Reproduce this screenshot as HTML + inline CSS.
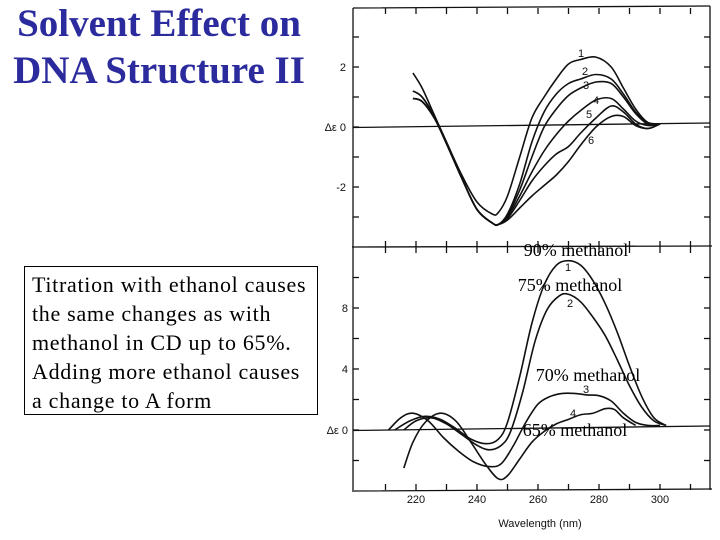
<!DOCTYPE html>
<html><head><meta charset="utf-8"><style>
body{margin:0;width:720px;height:540px;background:#fff;overflow:hidden;position:relative;font-family:"Liberation Serif",serif}
#title{position:absolute;left:0;top:0;width:318px;text-align:center;color:#2b2b9e;font-weight:bold;font-size:39px;line-height:47px;white-space:nowrap}
#note{position:absolute;left:24px;top:266px;width:294px;height:149px;border:1px solid #000;font-size:22px;letter-spacing:0.7px;line-height:29px;padding:3px 0 0 7px;box-sizing:border-box;white-space:nowrap}
svg{position:absolute;left:0;top:0}
</style></head><body>
<div id="title">Solvent Effect on<br>DNA Structure II</div>
<div id="note">Titration with ethanol causes<br>the same changes as with<br>methanol in CD up to 65%.<br>Adding more ethanol causes<br>a change to A form</div>
<svg id="chart" width="720" height="540"></svg>
<script>
const topLambda=[219,222,226,230,235,240,245,247,250,254,258,262,266,270,274,279,284,288,292,296,300];
const top1=[1.8,1.3,0.4,-0.5,-1.6,-2.5,-2.9,-2.85,-2.3,-1.0,0.3,1.0,1.6,2.1,2.25,2.33,2.0,1.3,0.6,0.15,0.1];
const top2=[1.2,1.0,0.35,-0.55,-1.7,-2.75,-3.2,-3.25,-2.9,-1.9,-0.5,0.5,1.1,1.45,1.6,1.75,1.6,1.1,0.5,0.15,0.1];
const top3=[1.2,1.0,0.35,-0.55,-1.7,-2.75,-3.2,-3.25,-2.95,-2.1,-1.0,0.0,0.6,1.05,1.3,1.5,1.45,1.0,0.45,0.1,0.1];
const top4=[0.95,0.85,0.3,-0.55,-1.7,-2.75,-3.2,-3.25,-3.0,-2.3,-1.5,-0.8,-0.25,0.2,0.55,0.9,0.95,0.6,0.2,0.05,0.1];
const top5=[0.95,0.85,0.3,-0.55,-1.7,-2.75,-3.2,-3.25,-3.05,-2.45,-1.8,-1.3,-0.9,-0.65,-0.2,0.3,0.7,0.5,0.1,-0.05,0.1];
const top6=[0.95,0.85,0.3,-0.55,-1.7,-2.75,-3.2,-3.25,-3.1,-2.7,-2.3,-1.95,-1.6,-1.15,-0.6,0.0,0.35,0.35,0.05,-0.05,0.1];
const botLambda1=[213,218,223,228,233,238,243,247,250,254,258,262,266,270,274,278,282,286,290,294,298,302];
const bot1=[0,0.6,0.9,0.7,0.1,-0.6,-0.9,-0.6,0.5,3.5,7.0,9.5,10.8,11.1,10.8,9.8,8.3,6.4,4.2,2.2,0.8,0.3];
const botLambda2=[216,220,225,230,235,240,244,248,251,255,259,263,267,270,274,278,282,286,290,294,298,302];
const bot2=[0,0.6,0.8,0.4,-0.3,-1.0,-1.3,-1.0,-0.1,2.5,5.8,7.9,8.8,8.9,8.4,7.4,6.2,4.6,2.9,1.5,0.6,0.3];
const botLambda3=[211,215,219,224,229,234,239,244,248,252,256,260,264,268,272,276,280,284,288,292,296,300];
const bot3=[0,0.8,1.1,0.6,-0.5,-1.4,-2.1,-2.4,-2.2,-1.0,0.5,1.7,2.2,2.4,2.4,2.3,2.25,1.9,1.1,0.5,0.3,0.3];
const botLambda4=[216,219,223,228,233,238,243,247,250,254,258,262,266,270,274,278,282,285,288,292];
const bot4=[-2.5,-0.8,0.5,1.1,0.6,-0.8,-2.3,-3.2,-3.0,-1.9,-0.8,-0.1,0.4,0.7,1.0,1.1,1.4,1.35,0.8,0.3];
const xTickLabels=[220,240,260,280,300];
const topYLabels=["2","Δε 0","-2"], topYVals=[2,0,-2];
const botYLabels=["8","4","Δε 0"], botYVals=[8,4,0];

const NS="http://www.w3.org/2000/svg", svg=document.getElementById('chart');
const xS=l=>416+(l-220)*3.05;
const yT=v=>127-v*30;
const yB=v=>430-v*15.25;
function mk(t,a){const e=document.createElementNS(NS,t);for(const k in a)e.setAttribute(k,a[k]);svg.appendChild(e);return e;}
function path(pts){let d=`M${pts[0][0]},${pts[0][1]}`;for(let i=0;i<pts.length-1;i++){const p0=pts[Math.max(0,i-1)],p1=pts[i],p2=pts[i+1],p3=pts[Math.min(pts.length-1,i+2)];d+=` C${p1[0]+(p2[0]-p0[0])/6},${p1[1]+(p2[1]-p0[1])/6} ${p2[0]-(p3[0]-p1[0])/6},${p2[1]-(p3[1]-p1[1])/6} ${p2[0]},${p2[1]}`;}return d;}
const ln={stroke:"#111","stroke-width":1.3,fill:"none"};
let e;
e=mk('path',{d:"M353,8 L710,6 M353,8 L353,492 M352,247 L712,246 M354,491 L712,489",...ln});
mk('line',{x1:710,y1:6,x2:710,y2:490,...ln});
for(let l=210;l<=310;l+=10){const x=xS(l);
 mk('line',{x1:x,y1:8,x2:x,y2:14,...ln});mk('line',{x1:x,y1:247,x2:x,y2:241,...ln});
 mk('line',{x1:x,y1:247,x2:x,y2:253,...ln});mk('line',{x1:x,y1:490,x2:x,y2:484,...ln});}
for(let v=-3;v<=3;v++){const y=yT(v);mk('line',{x1:353,y1:y,x2:359,y2:y,...ln});mk('line',{x1:710,y1:y,x2:704,y2:y,...ln});}
for(let v=-2;v<=14;v+=2){const y=yB(v);if(y<250||y>488)continue;mk('line',{x1:353,y1:y,x2:359,y2:y,...ln});mk('line',{x1:710,y1:y,x2:704,y2:y,...ln});}
e=mk('line',{x1:353,y1:127.5,x2:710,y2:123,...ln});
e=mk('line',{x1:353,y1:430.5,x2:710,y2:426,...ln});
const topSeries=[top1,top2,top3,top4,top5,top6];
topSeries.forEach((s,i)=>{const p=mk('path',{d:path(topLambda.map((l,j)=>[xS(l),yT(s[j])])),...ln,"stroke-width":1.6});

});
const botSeries=[[botLambda1,bot1],[botLambda2,bot2],[botLambda3,bot3],[botLambda4,bot4]];
botSeries.forEach((s,i)=>{const p=mk('path',{d:path(s[0].map((l,j)=>[xS(l),yB(s[1][j])])),...ln,"stroke-width":1.6});

});
function txt(x,y,s,st,name){const t=mk('text',{x:x,y:y,...st});t.textContent=s;return t;}
const sans={"font-family":"Liberation Sans, DejaVu Sans, sans-serif","font-size":11,fill:"#111"};
[[578,57,"1"],[582,75,"2"],[583,89,"3"],[593,104,"4"],[586,118,"5"],[588,144,"6"]].forEach(a=>txt(a[0],a[1],a[2],sans,'top-curve-label'));
[[565,271,"1"],[567,307,"2"],[583,393,"3"],[570,417,"4"]].forEach(a=>txt(a[0],a[1],a[2],sans,'bottom-curve-label'));
topYVals.forEach((v,i)=>txt(346,yT(v)+4,topYLabels[i],{...sans,"text-anchor":"end"},'top-y-tick-label'));
botYVals.forEach((v,i)=>txt(348,yB(v)+4,botYLabels[i],{...sans,"text-anchor":"end"},'bottom-y-tick-label'));
xTickLabels.forEach(l=>txt(xS(l),503,String(l),{...sans,"text-anchor":"middle"},'x-tick-label'));
txt(540,527,"Wavelength  (nm)",{...sans,"text-anchor":"middle"},'x-axis-title');
const ser={"font-family":"Liberation Serif, serif","font-size":18,fill:"#000","text-anchor":"middle"};
[[576,256,"90% methanol"],[570,291,"75% methanol"],[588,381,"70% methanol"],[575,436,"65% methanol"]].forEach(a=>txt(a[0],a[1],a[2],ser,'annotation-'+a[2].slice(0,2)+'-methanol'));
</script>
</body></html>
